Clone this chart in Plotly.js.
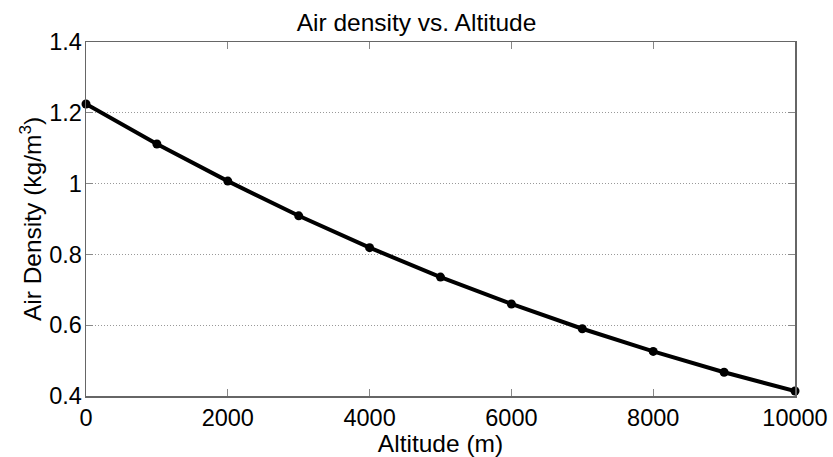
<!DOCTYPE html>
<html><head><meta charset="utf-8">
<script src="https://cdn.plot.ly/plotly-3.0.1.min.js"></script>
<style>html,body{margin:0;padding:0;background:#fff}#c{width:833px;height:457px}</style>
</head><body><div id="c"></div>
<script>
const altitude = [0, 1000, 2000, 3000, 4000, 5000, 6000, 7000, 8000, 9000, 10000];
const density = [1.225, 1.112, 1.007, 0.909, 0.819, 0.736, 0.660, 0.590, 0.526, 0.467, 0.414];
const xTicks = [0, 2000, 4000, 6000, 8000, 10000];
const yTicks = [0.4, 0.6, 0.8, 1, 1.2, 1.4];
const yTickText = ['0.4', '0.6', '0.8', '1', '1.2', '1.4'];

const font = 'Liberation Sans, Arial, Helvetica, sans-serif';
Plotly.newPlot('c', [{
  x: altitude, y: density, type: 'scatter', mode: 'lines+markers',
  line: {color: '#000', width: 4},
  marker: {color: '#000', size: 9},
  cliponaxis: false, showlegend: false
}], {
  width: 833, height: 457,
  margin: {l: 86, r: 38, t: 42, b: 61},
  paper_bgcolor: '#fff', plot_bgcolor: '#fff',
  title: {text: 'Air density vs. Altitude', font: {family: font, size: 24.5, color: '#000'}, x: 0.5, xanchor: 'center', y: 0.952, yanchor: 'middle'},
  xaxis: {
    range: [0, 10000], tickvals: xTicks, ticktext: xTicks.map(String),
    ticks: 'inside', ticklen: 7, tickcolor: '#888', tickwidth: 1,
    showline: true, linecolor: '#666', linewidth: 1.5, mirror: 'ticks',
    showgrid: false, zeroline: false,
    tickfont: {family: font, size: 23.5, color: '#000'},
    title: {text: 'Altitude (m)', font: {family: font, size: 24.5, color: '#000'}, standoff: 0}
  },
  yaxis: {
    range: [0.4, 1.4], tickvals: yTicks, ticktext: yTickText,
    ticks: 'inside', ticklen: 7, tickcolor: '#888', tickwidth: 1,
    showline: true, linecolor: '#666', linewidth: 1.5, mirror: 'ticks',
    showgrid: true, gridcolor: '#999', griddash: '1px,2px', gridwidth: 1, zeroline: false,
    tickfont: {family: font, size: 23.5, color: '#000'}, ticklabelstandoff: -2,
    title: {text: 'Air Density (kg/m<sup>3</sup>)', font: {family: font, size: 24.5, color: '#000'}, standoff: 0}
  }
}, {displayModeBar: false, staticPlot: true});
</script></body></html>
